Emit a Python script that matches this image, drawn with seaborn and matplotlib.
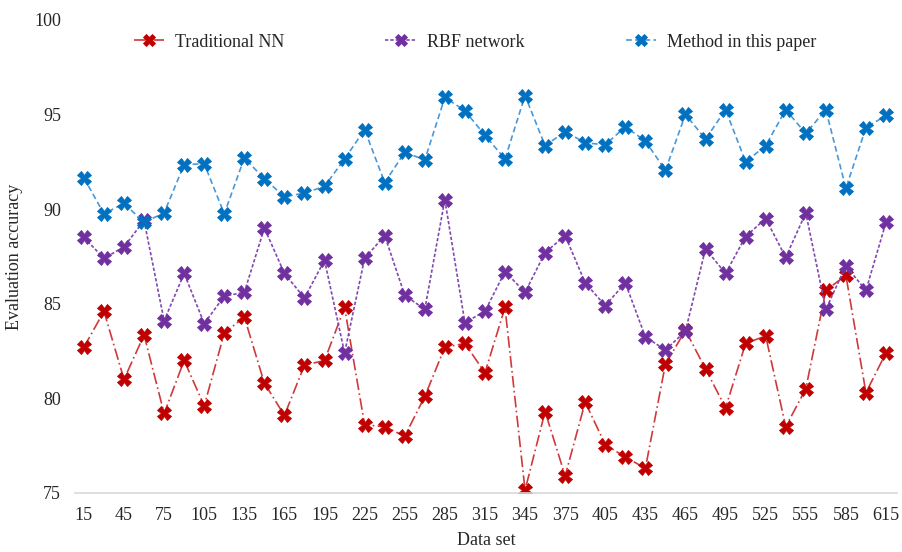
import matplotlib
matplotlib.use("Agg")
import matplotlib.pyplot as plt
import seaborn as sns
import pandas as pd

data_set = list(range(15, 616, 15))

traditional_nn = [82.7, 84.6, 81.0, 83.35, 79.2, 82.0, 79.6, 83.45, 84.3, 80.8,
                  79.1, 81.75, 82.0, 84.8, 78.6, 78.5, 78.0, 80.1, 82.7, 82.9,
                  81.35, 84.8, 75.15, 79.3, 75.9, 79.8, 77.55, 76.9, 76.3, 81.8,
                  83.6, 81.55, 79.5, 82.9, 83.3, 78.5, 80.5, 85.7, 86.5, 80.3, 82.4]

rbf_network = [88.5, 87.4, 88.0, 89.4, 84.1, 86.6, 83.95, 85.4, 85.6, 89.0,
               86.6, 85.3, 87.3, 82.4, 87.4, 88.6, 85.45, 84.7, 90.5, 84.0,
               84.6, 86.7, 85.6, 87.7, 88.6, 86.1, 84.9, 86.1, 83.25, 82.55,
               83.55, 87.9, 86.6, 88.55, 89.5, 87.45, 89.8, 84.7, 87.0, 85.7, 89.3]

this_paper = [91.65, 89.75, 90.3, 89.3, 89.8, 92.35, 92.4, 89.75, 92.7, 91.6,
              90.65, 90.85, 91.2, 92.65, 94.2, 91.4, 93.0, 92.6, 95.9, 95.2,
              93.9, 92.65, 96.0, 93.35, 94.1, 93.5, 93.4, 94.35, 93.6, 92.05,
              95.0, 93.7, 95.25, 92.5, 93.35, 95.25, 94.0, 95.25, 91.1, 94.3, 94.95]

series_names = ["Traditional NN", "RBF network", "Method in this paper"]
series_values = [traditional_nn, rbf_network, this_paper]
colors = ["#C00000", "#7030A0", "#0070C0"]
line_colors = ["#D0393B", "#8048B0", "#4A98D8"]
dashes = [(7, 2, 1, 2), (2, 1.2), (3.5, 2)]

sns.set_style("white")
plt.rcParams["font.family"] = ["Liberation Serif", "DejaVu Serif"]

fig = plt.figure(figsize=(9.03, 5.52), dpi=100)
ax = fig.add_axes([0.083, 0.107, 0.91, 0.857])

for name, vals, col, lc, dsh in zip(series_names, series_values, colors,
                                    line_colors, dashes):
    df = pd.DataFrame({"Data set": data_set, "value": vals})
    sns.lineplot(data=df, x="Data set", y="value", ax=ax, color=lc,
                 linewidth=1.2, marker="X", markersize=10,
                 markerfacecolor=col, markeredgecolor=col,
                 markeredgewidth=0.6, label=name)
    ax.lines[-1].set_dashes(dsh)

ax.set_xlim(8.3, 623)
ax.set_ylim(75, 100)
ax.set_yticks([75, 80, 85, 90, 95, 100])
ax.set_xticks(list(range(15, 616, 30)))
ax.tick_params(axis="x", labelsize=13, length=0, pad=10)
ax.tick_params(axis="y", labelsize=13, length=0, pad=10)
ax.set_xlabel("Data set", fontsize=13, labelpad=6)
ax.set_ylabel("Evaluation accuracy", fontsize=13, labelpad=8)

for s in ["top", "right", "left"]:
    ax.spines[s].set_visible(False)
ax.spines["bottom"].set_color("#D9D9D9")
ax.spines["bottom"].set_linewidth(1.2)

leg = ax.legend(loc="center", bbox_to_anchor=(0.487, 0.953), ncol=3,
                frameon=False, fontsize=13, handlelength=1.7,
                columnspacing=5.6, handletextpad=0.6)
for line in leg.get_lines():
    line.set_markersize(9)

fig.savefig("out.png", dpi=100)
